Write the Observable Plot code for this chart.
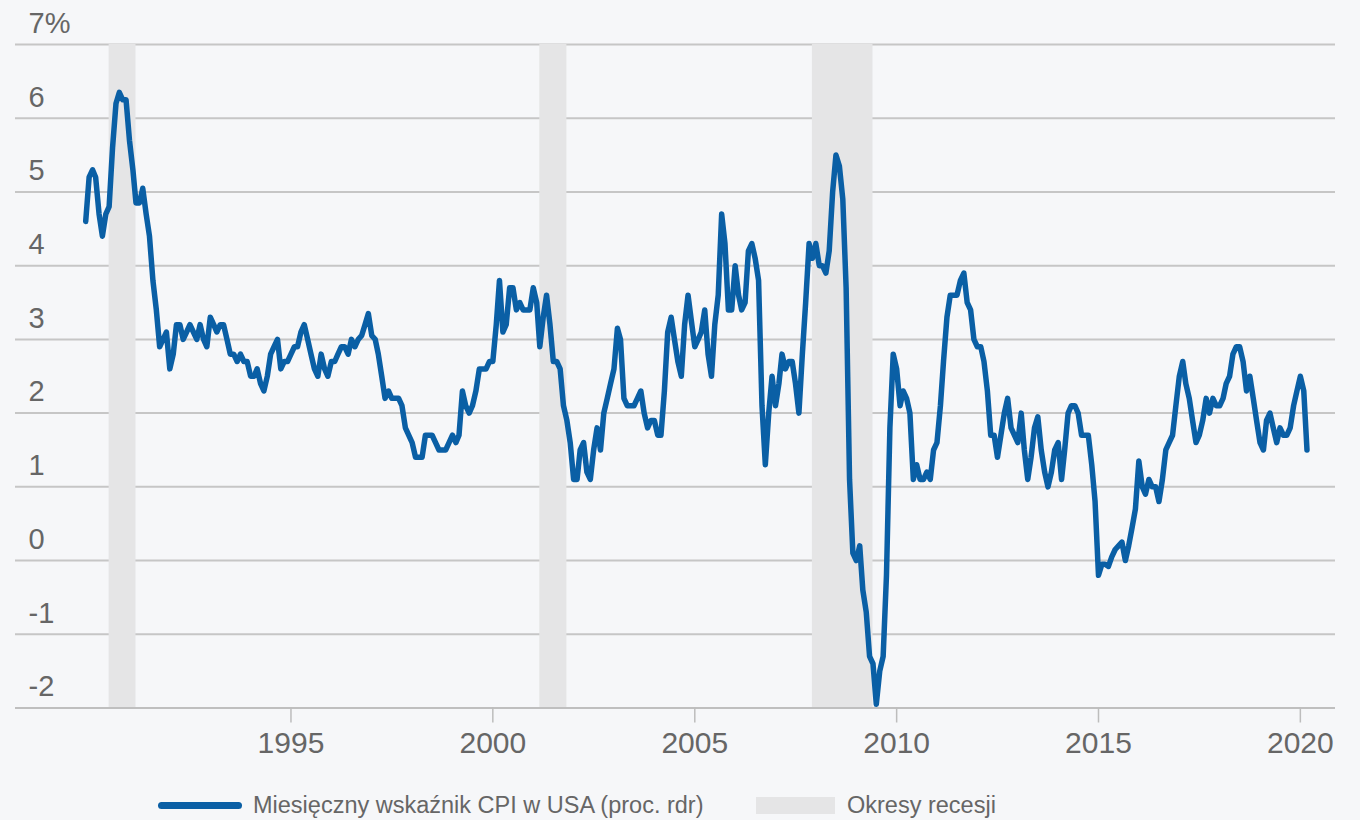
<!DOCTYPE html>
<html>
<head>
<meta charset="utf-8">
<script src="https://cdn.jsdelivr.net/npm/d3@7"></script>
<script src="https://cdn.jsdelivr.net/npm/@observablehq/plot@0.6"></script>
<style>
  body { margin: 0; background: #f6f7f9; }
  #chart { position: relative; width: 1360px; height: 820px; background: #f6f7f9;
           font-family: "Liberation Sans", Arial, sans-serif; overflow: hidden; }
  .legend { position: absolute; left: 0; top: 775px; width: 1360px; height: 45px; }
  .legend .sw-line { position: absolute; left: 158px; top: 26.5px; width: 84px; height: 7px;
                     border-radius: 3.5px; background: #0a5fa5; }
  .legend .sw-rect { position: absolute; left: 756px; top: 21.5px; width: 79px; height: 17px;
                     background: #e5e5e6; }
  .legend .lbl { position: absolute; top: 18px; line-height: 24px; font-size: 23.5px; color: #666;
                 white-space: nowrap; }
</style>
</head>
<body>
<div id="chart"></div>
<script>
// Monthly US CPI, % y/y — first value is December 1989
const firstYear = 1989;
const firstMonthIndex = 11; // December (0-based)

const cpi1989to1994 = [
  4.6,
  5.2, 5.3, 5.2, 4.7, 4.4, 4.7, 4.8, 5.6, 6.2, 6.35, 6.25, 6.25,
  5.7, 5.3, 4.85, 4.85, 5.05, 4.7, 4.4, 3.8, 3.4, 2.9, 3.0, 3.1,
  2.6, 2.8, 3.2, 3.2, 3.0, 3.1, 3.2, 3.1, 3.0, 3.2, 3.0, 2.9,
  3.3, 3.2, 3.1, 3.2, 3.2, 3.0, 2.8, 2.8, 2.7, 2.8, 2.7, 2.7,
  2.5, 2.5, 2.6, 2.4, 2.3, 2.5, 2.8, 2.9, 3.0, 2.6, 2.7, 2.7
];
const cpi1995to1999 = [
  2.8, 2.9, 2.9, 3.1, 3.2, 3.0, 2.8, 2.6, 2.5, 2.8, 2.6, 2.5,
  2.7, 2.7, 2.8, 2.9, 2.9, 2.8, 3.0, 2.9, 3.0, 3.05, 3.2, 3.35,
  3.05, 3.0, 2.8, 2.5, 2.2, 2.3, 2.2, 2.2, 2.2, 2.1, 1.8, 1.7,
  1.6, 1.4, 1.4, 1.4, 1.7, 1.7, 1.7, 1.6, 1.5, 1.5, 1.5, 1.6,
  1.7, 1.6, 1.7, 2.3, 2.1, 2.0, 2.1, 2.3, 2.6, 2.6, 2.6, 2.7
];
const cpi2000to2004 = [
  2.7, 3.2, 3.8, 3.1, 3.2, 3.7, 3.7, 3.4, 3.5, 3.4, 3.4, 3.4,
  3.7, 3.5, 2.9, 3.3, 3.6, 3.2, 2.7, 2.7, 2.6, 2.1, 1.9, 1.6,
  1.1, 1.1, 1.5, 1.6, 1.2, 1.1, 1.5, 1.8, 1.5, 2.0, 2.2, 2.4,
  2.6, 3.15, 3.0, 2.2, 2.1, 2.1, 2.1, 2.2, 2.3, 2.0, 1.8, 1.9,
  1.9, 1.7, 1.7, 2.3, 3.1, 3.3, 3.0, 2.7, 2.5, 3.2, 3.6, 3.25
];
const cpi2005to2009 = [
  2.9, 3.0, 3.1, 3.4, 2.8, 2.5, 3.2, 3.6, 4.7, 4.3, 3.4, 3.4,
  4.0, 3.6, 3.4, 3.5, 4.2, 4.3, 4.1, 3.8, 2.1, 1.3, 2.0, 2.5,
  2.1, 2.4, 2.8, 2.6, 2.7, 2.7, 2.4, 2.0, 2.8, 3.5, 4.3, 4.1,
  4.3, 4.0, 4.0, 3.9, 4.2, 5.0, 5.5, 5.35, 4.9, 3.7, 1.1, 0.1,
  0.0, 0.2, -0.4, -0.7, -1.3, -1.4, -1.95, -1.5, -1.3, -0.2, 1.8, 2.8
];
const cpi2010to2014 = [
  2.6, 2.1, 2.3, 2.2, 2.0, 1.1, 1.3, 1.1, 1.1, 1.2, 1.1, 1.5,
  1.6, 2.1, 2.7, 3.3, 3.6, 3.6, 3.6, 3.8, 3.9, 3.5, 3.4, 3.0,
  2.9, 2.9, 2.7, 2.3, 1.7, 1.7, 1.4, 1.7, 2.0, 2.2, 1.8, 1.7,
  1.6, 2.0, 1.5, 1.1, 1.4, 1.8, 1.95, 1.5, 1.2, 1.0, 1.2, 1.5,
  1.6, 1.1, 1.5, 2.0, 2.1, 2.1, 2.0, 1.7, 1.7, 1.7, 1.3, 0.8
];
const cpi2015to2020 = [
  -0.2, -0.05, -0.05, -0.08, 0.05, 0.15, 0.2, 0.25, 0.0, 0.2, 0.45, 0.7,
  1.35, 1.0, 0.9, 1.1, 1.0, 1.0, 0.8, 1.1, 1.5, 1.6, 1.7, 2.1,
  2.5, 2.7, 2.4, 2.2, 1.9, 1.6, 1.7, 1.9, 2.2, 2.0, 2.2, 2.1,
  2.1, 2.2, 2.4, 2.5, 2.8, 2.9, 2.9, 2.7, 2.3, 2.5, 2.2, 1.9,
  1.6, 1.5, 1.9, 2.0, 1.8, 1.6, 1.8, 1.7, 1.7, 1.8, 2.1, 2.3,
  2.5, 2.3, 1.5
];

const recessionStart = ["1990-07-01", "2001-03-01", "2007-12-01"];
const recessionEnd   = ["1991-03-01", "2001-11-01", "2009-06-01"];

const yTicks      = [-2, -1, 0, 1, 2, 3, 4, 5, 6, 7];
const yTickLabels = ["-2", "-1", "0", "1", "2", "3", "4", "5", "6", "7%"];
const xTickYears  = [1995, 2000, 2005, 2010, 2015, 2020];

const legendLineLabel = "Miesięczny wskaźnik CPI w USA (proc. rdr)";
const legendBandLabel = "Okresy recesji";

// ---- build tables for the library ----
const cpiValues = [...cpi1989to1994, ...cpi1995to1999, ...cpi2000to2004,
                   ...cpi2005to2009, ...cpi2010to2014, ...cpi2015to2020];
const series = cpiValues.map((v, i) => ({
  date: new Date(Date.UTC(firstYear, firstMonthIndex + i, 1)),
  value: v
}));
const recessions = recessionStart.map((s, i) => ({
  start: new Date(s + "T00:00:00Z"),
  end: new Date(recessionEnd[i] + "T00:00:00Z")
}));
const xTickDates = xTickYears.map(y => new Date(Date.UTC(y, 0, 1)));

const plot = Plot.plot({
  width: 1360,
  height: 775,
  marginLeft: 15,
  marginRight: 25,
  marginTop: 44,
  marginBottom: 67.5,
  style: { background: "transparent", fontFamily: "'Liberation Sans', Arial, sans-serif", color: "#666" },
  x: { type: "utc", domain: [new Date(Date.UTC(1988, 2, 6)), new Date(Date.UTC(2020, 10, 14))] },
  y: { domain: [-2, 7], axis: null },
  marks: [
    Plot.ruleY(yTicks.filter(d => d > -2), { stroke: "#c6c6c6", strokeWidth: 2 }),
    Plot.rect(recessions, { x1: "start", x2: "end", fill: "#e5e5e6" }),
    Plot.ruleY([-2], { stroke: "#bfbfbf", strokeWidth: 2 }),
    Plot.axisX(xTickDates, {
      tickSize: 15, tickPadding: 9, tickFormat: d => String(d.getUTCFullYear()),
      fontSize: 30, stroke: "#bdbdbd", strokeWidth: 1.5, fill: "#666", label: null
    }),
    Plot.text(yTicks, {
      y: d => d, text: (d, i) => yTickLabels[i], frameAnchor: "left",
      dx: 13, dy: -21, textAnchor: "start", fontSize: 29, fill: "#666"
    }),
    Plot.line(series, {
      x: "date", y: "value", stroke: "#0a5fa5", strokeWidth: 5.5,
      strokeLinejoin: "round", strokeLinecap: "round"
    })
  ]
});

const chart = document.getElementById("chart");
chart.appendChild(plot);

const legend = document.createElement("div");
legend.className = "legend";
legend.innerHTML =
  `<div class="sw-line"></div><div class="lbl" style="left:253px">${legendLineLabel}</div>` +
  `<div class="sw-rect"></div><div class="lbl" style="left:847px">${legendBandLabel}</div>`;
chart.appendChild(legend);
</script>
</body>
</html>
